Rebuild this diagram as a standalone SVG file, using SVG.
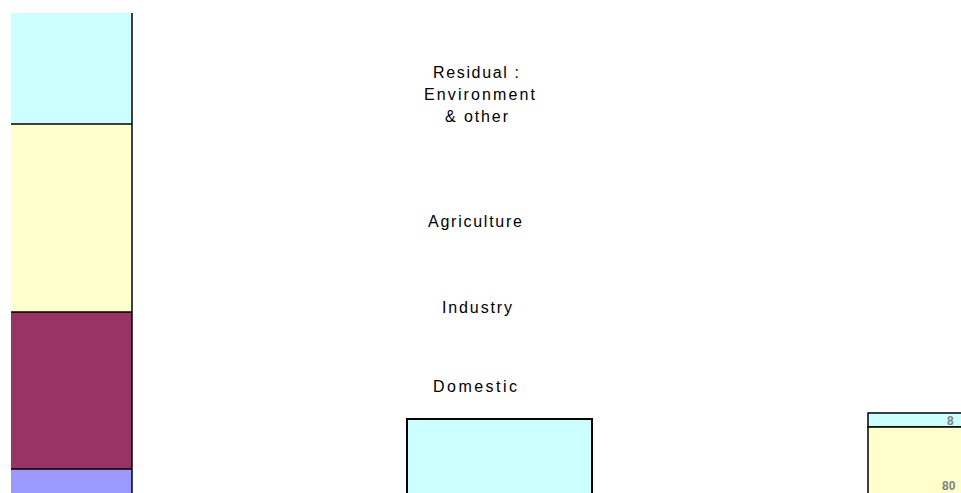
<svg xmlns="http://www.w3.org/2000/svg" width="961" height="493" viewBox="0 0 961 493">
<style>
.lbl{font-family:"Liberation Sans",Arial,sans-serif;font-size:16px;fill:#000}
.val{font-family:"Liberation Sans",Arial,sans-serif;font-size:12px;font-weight:bold;fill:#808080}
.edge{stroke:#000;stroke-width:1.5;fill:none}
</style>
<rect width="961" height="493" fill="#fff"/>
<g id="left-bar">
<rect x="11" y="13" width="121" height="111" fill="#CCFFFF"/>
<rect x="11" y="124" width="121" height="188" fill="#FFFFCC"/>
<rect x="11" y="312" width="121" height="157" fill="#993366"/>
<rect x="11" y="469" width="121" height="24" fill="#9999FF"/>
<line class="edge" x1="11" y1="124" x2="132" y2="124"/>
<line class="edge" x1="11" y1="312" x2="132" y2="312"/>
<line class="edge" x1="11" y1="469" x2="132" y2="469"/>
<line class="edge" x1="132" y1="13" x2="132" y2="493"/>
</g>
<g id="labels">
<text class="lbl" x="433" y="78" textLength="86" lengthAdjust="spacing">Residual :</text>
<text class="lbl" x="424" y="100" textLength="111" lengthAdjust="spacing">Environment</text>
<text class="lbl" x="445" y="122" textLength="63" lengthAdjust="spacing">&amp; other</text>
<text class="lbl" x="428" y="227" textLength="94" lengthAdjust="spacing">Agriculture</text>
<text class="lbl" x="442" y="313" textLength="70" lengthAdjust="spacing">Industry</text>
<text class="lbl" x="433" y="392" textLength="84" lengthAdjust="spacing">Domestic</text>
</g>
<g id="middle-box">
<rect x="407" y="419" width="185" height="80" fill="#CCFFFF" stroke="#000" stroke-width="2"/>
</g>
<g id="right-box">
<rect x="868" y="413" width="100" height="14" fill="#CCFFFF" stroke="#000" stroke-width="1.5"/>
<rect x="868" y="427" width="100" height="80" fill="#FFFFCC" stroke="#000" stroke-width="1.5"/>
<text class="val" x="947" y="425">8</text>
<text class="val" x="942" y="490">80</text>
</g>
<g id="connectors"></g>
</svg>
